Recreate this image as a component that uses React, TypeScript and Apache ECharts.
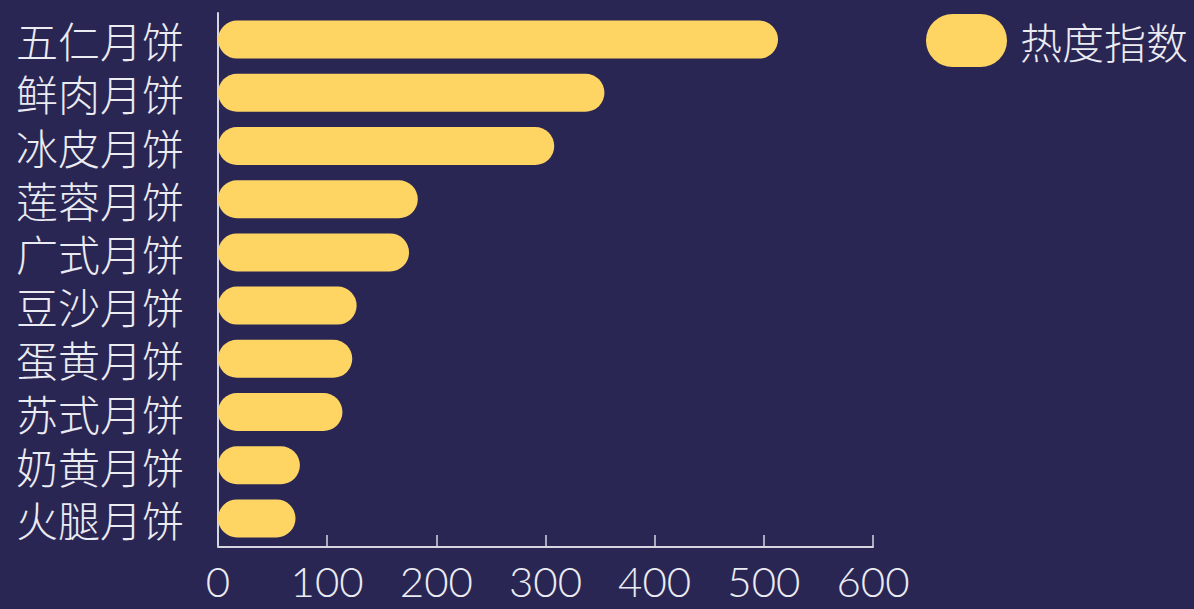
import React, { useEffect, useRef } from "react";
import * as echarts from "echarts";

const categories = ["五仁月饼", "鲜肉月饼", "冰皮月饼", "莲蓉月饼", "广式月饼", "豆沙月饼", "蛋黄月饼", "苏式月饼", "奶黄月饼", "火腿月饼"];
const values = [513, 354, 308, 183, 175, 127, 123, 114, 75, 71];
const seriesName = "热度指数";
const xTicks = [0, 100, 200, 300, 400, 500, 600];

const BG = "#2a2654";
const BAR = "#fed563";
const TEXT = "#ebebf2";
const LINE = "#d6d6e0";
const FONT = "'Noto Sans CJK SC', 'Noto Sans', sans-serif";
const NUM_FONT = "Lato, 'Noto Sans', sans-serif";

export default function App() {
  const ref = useRef<HTMLDivElement>(null);
  useEffect(() => {
    if (!ref.current) return;
    const chart = echarts.init(ref.current, null, { renderer: "svg" });
    chart.setOption({
      animation: false,
      backgroundColor: BG,
      textStyle: { fontFamily: FONT },
      legend: {
        left: 926,
        top: 14,
        padding: 0,
        itemWidth: 81,
        itemHeight: 53,
        icon: "path://M26.5,0 H54.5 A26.5,26.5 0 0 1 54.5,53 H26.5 A26.5,26.5 0 0 1 26.5,0 Z",
        textStyle: { color: TEXT, fontSize: 42, lineHeight: 46, fontWeight: 200, fontFamily: FONT, padding: [0, 0, 0, 8] },
        data: [seriesName],
      },
      grid: { left: 218, right: 321, top: 13, bottom: 64, containLabel: false },
      xAxis: {
        type: "value",
        min: xTicks[0],
        max: xTicks[xTicks.length - 1],
        interval: 100,
        offset: 2,
        axisLine: { show: true, lineStyle: { color: LINE, width: 2 } },
        axisTick: { show: true, inside: true, length: 12, lineStyle: { color: LINE, width: 1.5 } },
        splitLine: { show: false },
        axisLabel: { color: TEXT, fontSize: 42, lineHeight: 42, fontWeight: 300, fontFamily: NUM_FONT, margin: 13 },
      },
      yAxis: {
        type: "category",
        inverse: true,
        data: categories,
        axisLine: { show: true, lineStyle: { color: LINE, width: 2 } },
        axisTick: { show: false },
        axisLabel: { color: TEXT, fontSize: 42, lineHeight: 44, fontWeight: 200, fontFamily: FONT, margin: 34, interval: 0 },
      },
      series: [
        {
          name: seriesName,
          type: "bar",
          data: values,
          barWidth: 38,
          itemStyle: { color: BAR, borderRadius: 19 },
        },
      ],
    });
    return () => chart.dispose();
  }, []);
  return <div ref={ref} style={{ position: "fixed", left: 0, top: 0, width: 1194, height: 609 }} />;
}
